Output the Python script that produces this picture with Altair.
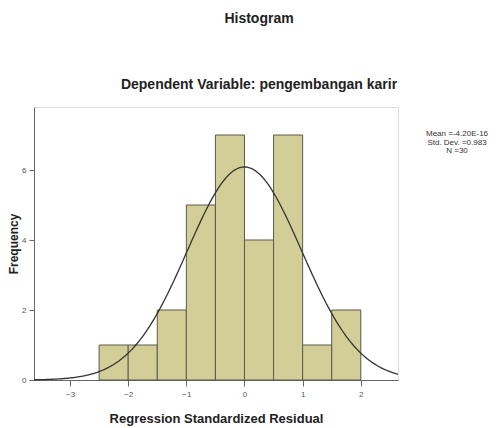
import altair as alt
import numpy as np
import pandas as pd

# Histogram data
bin_start = [-2.5, -2.0, -1.5, -1.0, -0.5, 0.0, 0.5, 1.0, 1.5]
counts = [1, 1, 2, 5, 7, 4, 7, 1, 2]
bin_width = 0.5

# Summary statistics shown in the chart
mean_val = -4.20e-16
std_dev = 0.983
n_obs = 30
stats_lines = ["Mean =-4.20E-16", "Std. Dev. =0.983", "N =30"]

x_ticks = [-3, -2, -1, 0, 1, 2]
y_ticks = [0, 2, 4, 6]
x_domain = [-3.62, 2.64]
y_domain = [0, 7.8]

bars = pd.DataFrame({
    "start": bin_start,
    "end": [b + bin_width for b in bin_start],
    "count": counts,
})

# Fitted normal curve defined by the chart's mean, std. dev. and N
xs = np.linspace(x_domain[0], x_domain[1], 240)
ys = n_obs * bin_width / (std_dev * np.sqrt(2 * np.pi)) * np.exp(-0.5 * ((xs - mean_val) / std_dev) ** 2)
curve = pd.DataFrame({"x": xs, "y": ys})

stats = pd.DataFrame({"line": stats_lines, "i": list(range(len(stats_lines)))})

FONT = "Liberation Sans"

xscale = alt.Scale(domain=x_domain, nice=False, zero=False)
yscale = alt.Scale(domain=y_domain, nice=False, zero=False)

xaxis = alt.Axis(values=x_ticks, format="d", title="Regression Standardized Residual", grid=False,
                 labelFontSize=8, labelColor="#555555", tickSize=6, tickColor="#666666",
                 domainColor="#666666", titleFontSize=13, titleFontWeight="bold",
                 titleFont=FONT, labelFont=FONT, titlePadding=14, titleColor="#222222",
                 labelPadding=4)
yaxis = alt.Axis(values=y_ticks, format="d", title="Frequency", grid=False,
                 labelFontSize=8, labelColor="#555555", tickSize=5, tickColor="#666666",
                 domainColor="#666666", titleFontSize=12, titleFontWeight="bold",
                 titleFont=FONT, labelFont=FONT, titlePadding=1, titleColor="#222222",
                 labelPadding=3)

bar_layer = alt.Chart(bars).mark_rect(
    fill="#D3CE97", stroke="#5a5a4c", strokeWidth=1
).encode(
    x=alt.X("start:Q", scale=xscale, axis=xaxis),
    x2="end:Q",
    y=alt.Y("count:Q", scale=yscale, axis=yaxis),
    y2=alt.datum(0),
)

curve_layer = alt.Chart(curve).mark_line(color="#333333", strokeWidth=1.3).encode(
    x=alt.X("x:Q", scale=xscale),
    y=alt.Y("y:Q", scale=yscale),
)

stats_layer = alt.Chart(stats).mark_text(
    fontSize=8, font=FONT, color="#333333", align="center", baseline="middle"
).encode(
    x=alt.value(423),
    y=alt.Y("i:Q", scale=alt.Scale(domain=[0, 1], range=[27, 35.5]), axis=None),
    text="line:N",
)

chart = alt.layer(alt.layer(bar_layer, curve_layer), stats_layer).resolve_scale(y="independent").properties(
    width=364,
    height=273,
    autosize=alt.AutoSizeParams(type="none"),
    padding={"left": 26, "top": 99, "right": 95, "bottom": 48},
    title=alt.TitleParams(
        text="Histogram",
        subtitle="Dependent Variable: pengembangan karir",
        anchor="middle",
        dx=43,
        fontSize=14,
        font=FONT,
        fontWeight="bold",
        color="#222222",
        subtitleFontSize=14,
        subtitleFont=FONT,
        subtitleFontWeight="bold",
        subtitleColor="#222222",
        subtitlePadding=52,
        offset=15,
    ),
).configure_view(
    fill="#EEEEEE", stroke="#6e6e6e", strokeWidth=1.5
).configure(background="white")

chart.save("out.html", embed_options={"renderer": "svg", "actions": False})
